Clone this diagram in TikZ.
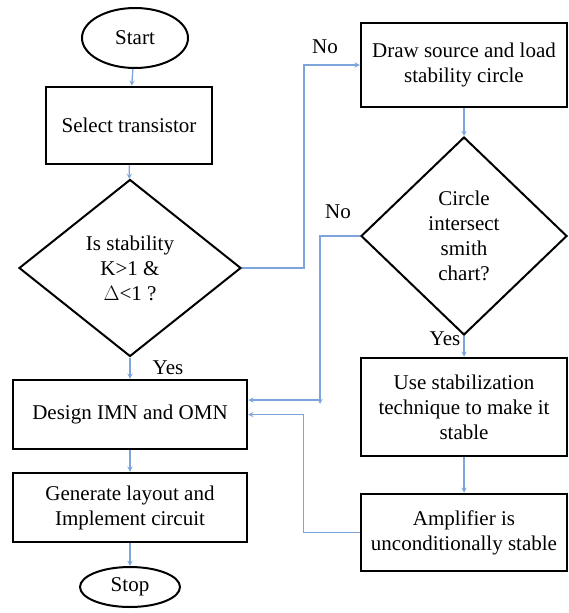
\documentclass[tikz,border=0pt]{standalone}
\usepackage{fontspec}
\setmainfont{Liberation Serif}
\usetikzlibrary{shapes.geometric, arrows}
\definecolor{linkblue}{RGB}{125,165,220}
\tikzstyle{startstop} = [ellipse, draw, line width=2pt, inner sep=0pt]
\tikzstyle{process} = [rectangle, draw, line width=2.5pt, align=center, inner sep=0pt, minimum width=206pt]
\tikzstyle{decision} = [diamond, draw, line width=2pt, align=center, inner sep=0pt]
\tikzstyle{arrow} = [linkblue, line width=1.3pt, ->, >=stealth]

\begin{document}
\begin{tikzpicture}[x=1pt, y=-1pt, font=\fontsize{21}{25}\selectfont]
  \useasboundingbox (0,0) rectangle (569,613);
  % left column
  \node[startstop, minimum width=106pt, minimum height=60pt] (start) at (135,38) {Start};
  \node[process, minimum width=166pt, minimum height=77pt] (select) at (129,125.5) {Select transistor};
  \node[decision, minimum width=222pt, minimum height=177pt] (stable) at (130,268) {Is stability\\K>1 \&\\$\Delta$<1 ?};
  \node[process, minimum width=234pt, minimum height=69pt] (design) at (130,414.5) {Design IMN and OMN};
  \node[process, minimum width=234pt, minimum height=69pt] (layout) at (130,507.5) {Generate layout and\\Implement circuit};
  \node[startstop, minimum width=100pt, minimum height=40pt] (stop) at (130,587) {Stop};
  % right column
  \node[process, minimum height=84pt] (circles) at (464,65) {Draw source and load\\stability circle};
  \node[decision, minimum width=206pt, minimum height=198pt] (smith) at (464,236) {Circle\\intersect\\smith\\chart?};
  \node[process, minimum height=98pt] (fix) at (464,407) {Use stabilization\\technique to make it\\stable};
  \node[process, minimum height=77pt] (uncond) at (464,532.5) {Amplifier is\\unconditionally stable};
  % labels
  \node (no1) at (325,47) {No};
  \node (no2) at (338,212) {No};
  \node (yes1) at (168,368) {Yes};
  \node (yes2) at (445,339) {Yes};
  \coordinate (drop) at (320,404);
  \coordinate (join) at (320,400);
  % connectors
  \draw[arrow] (start) -- (select);
  \draw[arrow] (select) -- (stable);
  \draw[arrow] (stable) -- (design);
  \draw[arrow] (design) -- (layout);
  \draw[arrow] (layout) -- (stop);
  \draw[arrow] (stable.east) -- ++(62,0) |- (circles.west);
  \draw[arrow] (circles) -- (smith);
  \draw[arrow] (smith) -- (fix);
  \draw[arrow] (fix) -- (uncond);
  \draw[arrow] (smith.west) -| (drop);
  \draw[arrow] (join) -- (design.east |- join);
  \draw[arrow] (uncond.west) -- ++(-56,0) |- (design.east);
\end{tikzpicture}
\end{document}
